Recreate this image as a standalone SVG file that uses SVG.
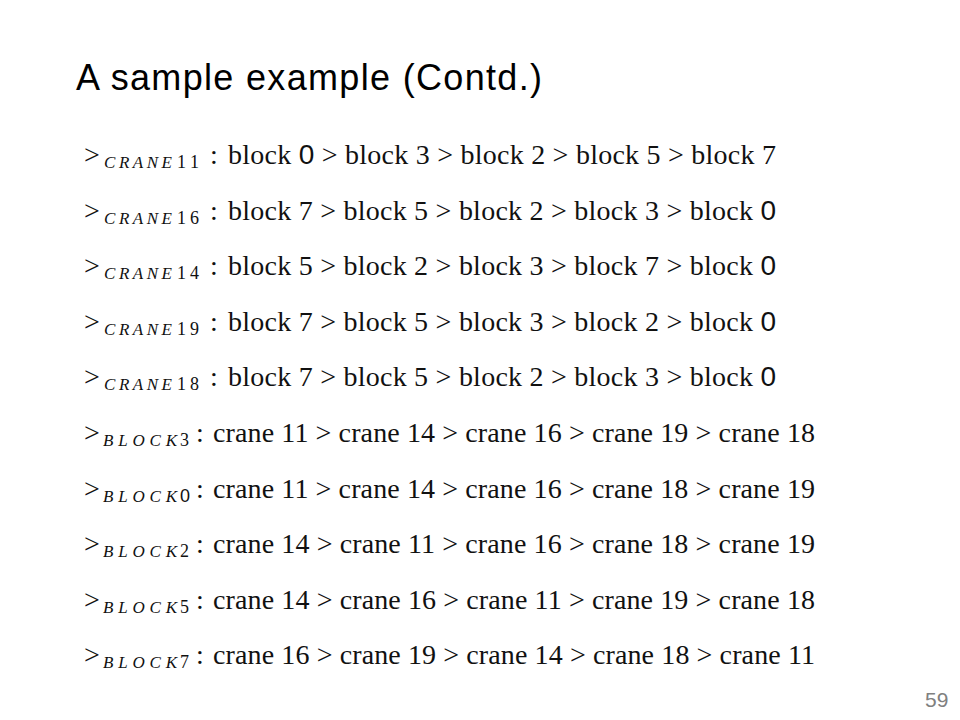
<svg xmlns="http://www.w3.org/2000/svg" width="960" height="720" viewBox="0 0 960 720">
<style>
.bg{fill:#ffffff}
.title{font-family:"Liberation Sans",Arial,sans-serif;font-size:36px;fill:#000}
.pg{font-family:"Liberation Sans",Arial,sans-serif;font-size:21px;fill:#808080}
.m{font-family:"Liberation Serif","Times New Roman",serif;font-size:28px;fill:#111}
.sub{font-family:"Liberation Serif","Times New Roman",serif;font-size:17px;font-style:italic;fill:#111}
.subn{font-family:"Liberation Serif","Times New Roman",serif;font-size:18px;font-style:normal;fill:#111}
.z{font-family:"Liberation Sans",Arial,sans-serif;font-style:normal}
</style>
<rect class="bg" x="0" y="0" width="960" height="720"/>
<text id="title" class="title" x="76" y="90" textLength="466" lengthAdjust="spacing">A sample example (Contd.)</text>

<g id="row-crane11">
<text class="m" x="84" y="164">&gt;</text>
<text class="sub" x="104" y="168"><tspan textLength="68" lengthAdjust="spacing">CRANE</tspan><tspan class="subn" x="177" textLength="22" lengthAdjust="spacing">11</tspan></text>
<text class="m" x="210" y="164">:</text>
<text class="m" x="228" y="164" textLength="548" lengthAdjust="spacing">block <tspan class="z">0</tspan> &gt; block 3 &gt; block 2 &gt; block 5 &gt; block 7</text>
</g>

<g id="row-crane16">
<text class="m" x="84" y="219.5">&gt;</text>
<text class="sub" x="104" y="223.5"><tspan textLength="68" lengthAdjust="spacing">CRANE</tspan><tspan class="subn" x="177" textLength="22" lengthAdjust="spacing">16</tspan></text>
<text class="m" x="210" y="219.5">:</text>
<text class="m" x="228" y="219.5" textLength="548" lengthAdjust="spacing">block 7 &gt; block 5 &gt; block 2 &gt; block 3 &gt; block <tspan class="z">0</tspan></text>
</g>

<g id="row-crane14">
<text class="m" x="84" y="275">&gt;</text>
<text class="sub" x="104" y="279"><tspan textLength="68" lengthAdjust="spacing">CRANE</tspan><tspan class="subn" x="177" textLength="22" lengthAdjust="spacing">14</tspan></text>
<text class="m" x="210" y="275">:</text>
<text class="m" x="228" y="275" textLength="548" lengthAdjust="spacing">block 5 &gt; block 2 &gt; block 3 &gt; block 7 &gt; block <tspan class="z">0</tspan></text>
</g>

<g id="row-crane19">
<text class="m" x="84" y="330.5">&gt;</text>
<text class="sub" x="104" y="334.5"><tspan textLength="68" lengthAdjust="spacing">CRANE</tspan><tspan class="subn" x="177" textLength="22" lengthAdjust="spacing">19</tspan></text>
<text class="m" x="210" y="330.5">:</text>
<text class="m" x="228" y="330.5" textLength="548" lengthAdjust="spacing">block 7 &gt; block 5 &gt; block 3 &gt; block 2 &gt; block <tspan class="z">0</tspan></text>
</g>

<g id="row-crane18">
<text class="m" x="84" y="386">&gt;</text>
<text class="sub" x="104" y="390"><tspan textLength="68" lengthAdjust="spacing">CRANE</tspan><tspan class="subn" x="177" textLength="22" lengthAdjust="spacing">18</tspan></text>
<text class="m" x="210" y="386">:</text>
<text class="m" x="228" y="386" textLength="548" lengthAdjust="spacing">block 7 &gt; block 5 &gt; block 2 &gt; block 3 &gt; block <tspan class="z">0</tspan></text>
</g>

<g id="row-block3">
<text class="m" x="84" y="442">&gt;</text>
<text class="sub" x="103" y="446"><tspan textLength="74" lengthAdjust="spacing">BLOCK</tspan><tspan class="subn" x="180">3</tspan></text>
<text class="m" x="196" y="442">:</text>
<text class="m" x="213" y="442" textLength="602" lengthAdjust="spacing">crane 11 &gt; crane 14 &gt; crane 16 &gt; crane 19 &gt; crane 18</text>
</g>

<g id="row-block0">
<text class="m" x="84" y="497.5">&gt;</text>
<text class="sub" x="103" y="501.5"><tspan textLength="74" lengthAdjust="spacing">BLOCK</tspan><tspan class="subn z" x="180">0</tspan></text>
<text class="m" x="196" y="497.5">:</text>
<text class="m" x="213" y="497.5" textLength="602" lengthAdjust="spacing">crane 11 &gt; crane 14 &gt; crane 16 &gt; crane 18 &gt; crane 19</text>
</g>

<g id="row-block2">
<text class="m" x="84" y="553">&gt;</text>
<text class="sub" x="103" y="557"><tspan textLength="74" lengthAdjust="spacing">BLOCK</tspan><tspan class="subn" x="180">2</tspan></text>
<text class="m" x="196" y="553">:</text>
<text class="m" x="213" y="553" textLength="602" lengthAdjust="spacing">crane 14 &gt; crane 11 &gt; crane 16 &gt; crane 18 &gt; crane 19</text>
</g>

<g id="row-block5">
<text class="m" x="84" y="608.5">&gt;</text>
<text class="sub" x="103" y="612.5"><tspan textLength="74" lengthAdjust="spacing">BLOCK</tspan><tspan class="subn" x="180">5</tspan></text>
<text class="m" x="196" y="608.5">:</text>
<text class="m" x="213" y="608.5" textLength="602" lengthAdjust="spacing">crane 14 &gt; crane 16 &gt; crane 11 &gt; crane 19 &gt; crane 18</text>
</g>

<g id="row-block7">
<text class="m" x="84" y="664">&gt;</text>
<text class="sub" x="103" y="668"><tspan textLength="74" lengthAdjust="spacing">BLOCK</tspan><tspan class="subn" x="180">7</tspan></text>
<text class="m" x="196" y="664">:</text>
<text class="m" x="213" y="664" textLength="602" lengthAdjust="spacing">crane 16 &gt; crane 19 &gt; crane 14 &gt; crane 18 &gt; crane 11</text>
</g>

<g id="connectors"></g>

<text id="page-number" class="pg" x="925" y="707">59</text>
</svg>
